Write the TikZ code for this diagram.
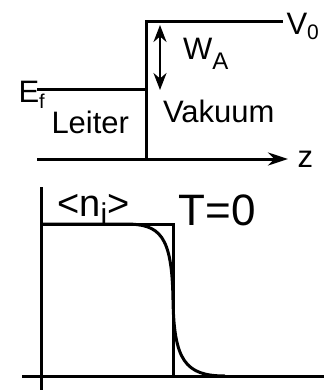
\documentclass[tikz,border=0pt]{standalone}
\usepackage{fontspec}
\setmainfont{Liberation Sans}
\usetikzlibrary{arrows.meta}
\newcommand{\tief}[3]{\raisebox{-#1pt}{\fontsize{#2pt}{#2pt}\selectfont #3}}
\tikzset{
  txt/.style={inner sep=0pt, anchor=base west, font=\fontsize{31pt}{31pt}\selectfont},
  achse/.style={line width=3pt, -{Stealth[length=20pt,width=13pt]}},
  doppel/.style={line width=2.5pt, {Stealth[length=17pt,width=13pt]}-{Stealth[length=17pt,width=13pt]}}
}
\begin{document}
\begin{tikzpicture}[x=1pt,y=-1pt,line width=3pt]
\useasboundingbox (0,0) rectangle (324,390);
% Potentialstufe
\coordinate (Z0) at (37,159);
\coordinate (Z1) at (288,159);
\coordinate (S0) at (146,159);
\coordinate (S1) at (146,21.7);
\coordinate (V) at (283,21.7);
\coordinate (F0) at (37,90);
\coordinate (F1) at (146,90);
\coordinate (W0) at (160,25);
\coordinate (W1) at (160,90);
\draw[achse] (Z0) -- (Z1);
\draw (S0) -- (S1) -- (V);
\draw (F0) -- (F1);
\draw[doppel] (W0) -- (W1);
\node[txt] (v0) at (285,35) {V\tief{5}{21}{0}};
\node[txt] (ef) at (17,102.7) {E\tief{6}{20}{f}};
\node[txt] (wa) at (181.5,60) {W\tief{10}{24}{A}};
\node[txt] (leiter) at (50,134) {Leiter};
\node[txt] (vakuum) at (161.5,123) {Vakuum};
\node[txt] (z) at (296,167) {z};
% Dichte
\coordinate (A0) at (41,187);
\coordinate (A1) at (41,390);
\coordinate (B0) at (22,376);
\coordinate (B1) at (324,376);
\coordinate (R0) at (41,224);
\coordinate (R1) at (173.5,224);
\coordinate (R2) at (173.5,376);
\draw (A0) -- (A1);
\draw (B0) -- (B1);
\draw (R0) -- (R1) -- (R2);
\draw (R0) -- (125,224) .. controls (160,224) and (172,235) .. (173,300)
  .. controls (174,360) and (185,376) .. (225,376);
\node[txt, font=\fontsize{38pt}{38pt}\selectfont] (n) at (55.7,216.7) {<n\tief{7.3}{30}{i}>};
\node[txt, font=\fontsize{44pt}{44pt}\selectfont] (T) at (177.4,225) {T=0};
\end{tikzpicture}
\end{document}
